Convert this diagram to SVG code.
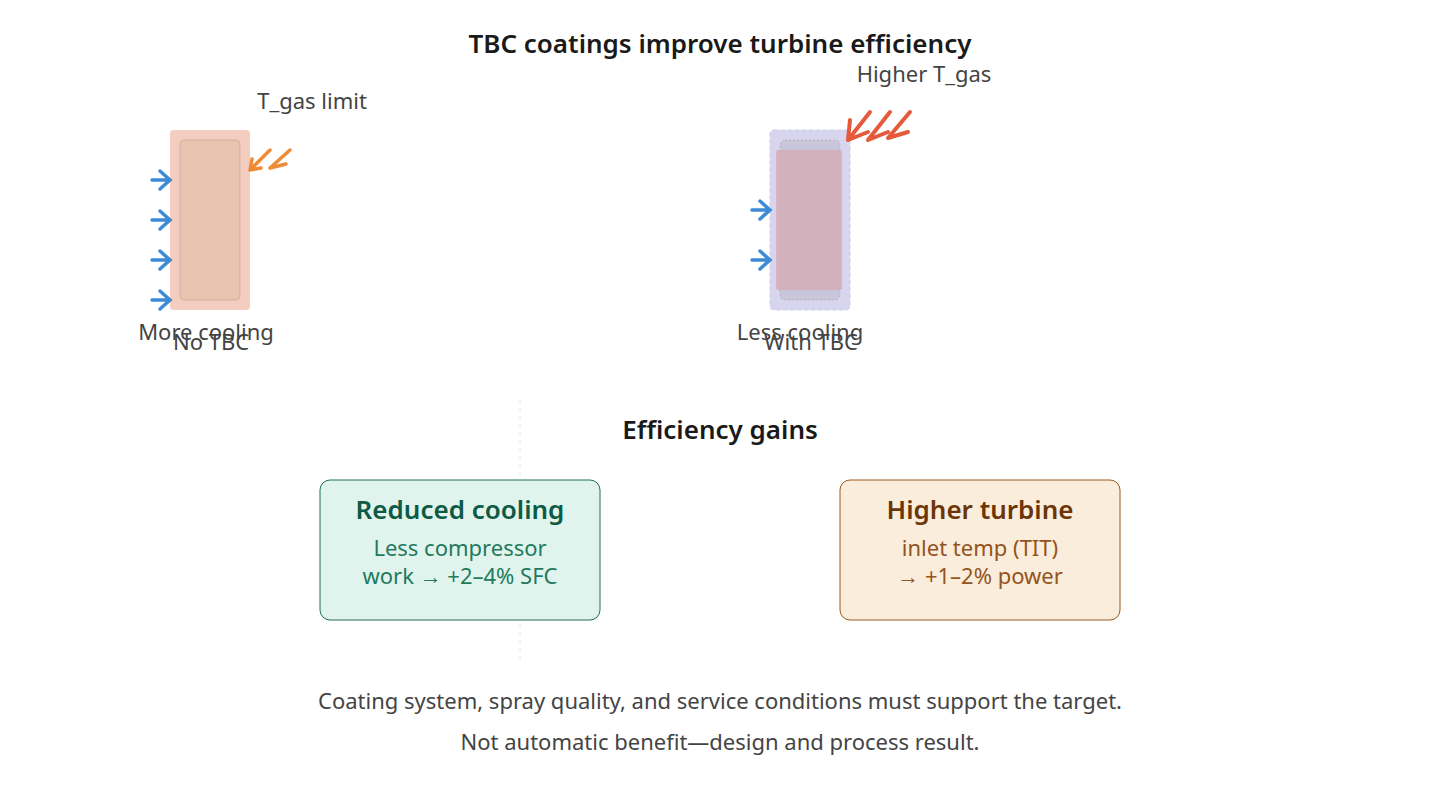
<svg xmlns="http://www.w3.org/2000/svg" width="1440" height="800" viewBox="0 0 1440 800">
<defs>
<style>
text{font-family:"Noto Sans","Open Sans",sans-serif}
.lbl{font-size:22px;fill:#444}
.h{font-size:26px;font-weight:600;fill:#1a1a1a}
.blue{stroke:#3d8ad6;stroke-width:3.5;fill:none;stroke-linecap:round}
.org{stroke:#ef8a35;stroke-width:3.5;fill:none;stroke-linecap:round}
.red{stroke:#e55a3a;stroke-width:4;fill:none;stroke-linecap:round}
</style>
</defs>
<rect width="1440" height="800" fill="#fff"/>
<text x="720" y="53" text-anchor="middle" class="h">TBC coatings improve turbine efficiency</text>
<g id="no-tbc">
<rect x="170" y="130" width="80" height="180" rx="4" fill="#f2cdc0"/>
<rect x="180" y="140" width="60" height="160" rx="4" fill="#e9c4b0" stroke="#cfa898" stroke-width="0.8"/>
<text x="312" y="109" text-anchor="middle" class="lbl">T_gas limit</text>
<text x="206" y="340" text-anchor="middle" class="lbl">More cooling</text>
<text x="211" y="350" text-anchor="middle" class="lbl">No TBC</text>
</g>
<g id="with-tbc">
<rect x="770" y="130" width="80" height="180" rx="4" fill="#d8d6ef" stroke="#cccbe8" stroke-dasharray="4 3"/>
<rect x="780" y="140" width="60" height="160" rx="5" fill="#c9c6dc" stroke="#c0a8b0" stroke-width="0.8" stroke-dasharray="2 2"/>
<rect x="776" y="150" width="66" height="140" rx="2" fill="#d4a8b2" opacity="0.75"/>
<text x="924" y="82" text-anchor="middle" class="lbl">Higher T_gas</text>
<text x="800" y="340" text-anchor="middle" class="lbl">Less cooling</text>
<text x="811" y="350" text-anchor="middle" class="lbl">With TBC</text>
</g>
<g id="connectors">
<g class="blue">
<path d="M152 180H170M160 171l10 9-10 9"/>
<path d="M152 220H170M160 211l10 9-10 9"/>
<path d="M152 260H170M160 251l10 9-10 9"/>
<path d="M152 300H170M160 291l10 9-10 9"/>
<path d="M752 210H770M760 201l10 9-10 9"/>
<path d="M752 260H770M760 251l10 9-10 9"/>
</g>
<g class="org">
<path d="M270 150L250 170M250 170l2-11M250 170l11-2"/>
<path d="M290 150L270 168M270 168l16-4"/>
</g>
<g class="red">
<path d="M870 112L848 140M848 140l2-20M848 140l20-8"/>
<path d="M890 112L868 140M868 140l20-8"/>
<path d="M910 112L888 138M888 138l20-6"/>
</g>
<line x1="520" y1="400" x2="520" y2="660" stroke="#e8eaf0" stroke-dasharray="4 4"/>
</g>
<text x="720" y="439" text-anchor="middle" class="h">Efficiency gains</text>
<g id="reduced-cooling">
<rect x="320" y="480" width="280" height="140" rx="10" fill="#e0f4ed" stroke="#1f6e5a"/>
<text x="460" y="519" text-anchor="middle" font-size="26" font-weight="600" fill="#0d5a45">Reduced cooling</text>
<text x="460" y="556" text-anchor="middle" font-size="22" fill="#1f7a5e">Less compressor</text>
<text x="460" y="584" text-anchor="middle" font-size="22" fill="#1f7a5e">work → +2–4% SFC</text>
</g>
<g id="higher-turbine">
<rect x="840" y="480" width="280" height="140" rx="10" fill="#fbeddb" stroke="#9a5a20"/>
<text x="980" y="519" text-anchor="middle" font-size="26" font-weight="600" fill="#6b3508">Higher turbine</text>
<text x="980" y="556" text-anchor="middle" font-size="22" fill="#94531c">inlet temp (TIT)</text>
<text x="980" y="584" text-anchor="middle" font-size="22" fill="#94531c">→ +1–2% power</text>
</g>
<text x="720" y="709" text-anchor="middle" class="lbl">Coating system, spray quality, and service conditions must support the target.</text>
<text x="720" y="750" text-anchor="middle" class="lbl">Not automatic benefit—design and process result.</text>
</svg>
